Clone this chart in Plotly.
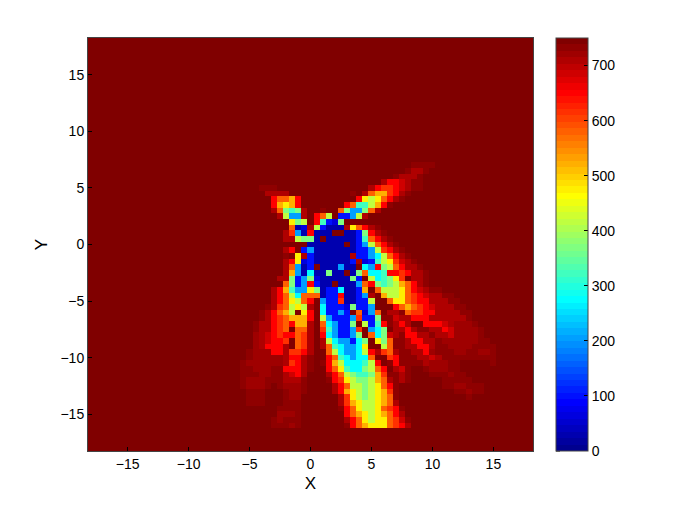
# -*- coding: utf-8 -*-
import numpy as np
import plotly.graph_objects as go

x_cells = [-18 + 0.5 * i for i in range(73)]
y_cells = [-18 + 0.5 * i for i in range(73)]

# map values, one letter per cell, background is 750
levels = {'.': 750, 'z': 737, 'w': 724, 'y': 710, 'x': 680, 'r': 650, 'q': 620, 'o': 580, 'p': 525,
          'u': 470, 'g': 420, 'l': 370, 't': 320, 'c': 280, 'a': 200, 'b': 105, 'm': 60, 'n': 25}

# rows from y=7 down to y=-16, each starts at x=-6, groups of 4 cells
first_row_y = 7
first_cell_x = -6
rows = [
    ".... .... .... .... .... .... .... .zzz z",
    ".... .... .... .... .... .... .... zyyz",
    ".... .... .... .... .... .... ..zy yyz.",
    ".... .... .... .... .... .... yrrx yzz.",
    ".... zzz. .... .... .... ..yr qqrx yzz.",
    ".... .yyy y... .... ...z .yop pqry z",
    ".... ..ro opr. .... .... rugu oryz",
    ".... ..rp upr. .... ..ro ttgp rz..",
    ".... ..yo ltly ..z. .ola aloy",
    ".... ...y gaay .rog .bba gy..",
    ".... .... .ulg .rtb ml..",
    ".... .... .onm ygbn nnyu oryz",
    ".... .... yqan rnnn ..nn blry z",
    ".... .... yygl ln.n nnnn btor yz",
    ".... .... .... nnnn nn.n bago ryz.",
    ".... .... yr.b annn nnnn bbag qryz",
    ".... .... z.uy bnnn nnny bbac gory z",
    ".... .... yrum bnnn nnnb ymbt guqx yz",
    ".... .... yoan b.nn nann .car lgor yyz.",
    ".... .... ypan cnnl nn.n locc trrq ryyz",
    ".... ...y ylba lmnn nnnl b.gc tluq .yyz",
    ".... .... olba rbnn .nnn aorl tlgp oryz",
    ".... ..yr ptaa ulnb bcnn bp.o gggu orxy zz",
    ".... ..yr ogco oonb brnn bay. pggu oqrx yyzz",
    ".... ..yr ougo r.ab bqnn bbg. .ouu oqrr yyyz z",
    ".... .zyq ogug y.cb bbml bba. ..ro poqr xyyy zz",
    ".... zyro pg.u r.cb bab. omao .yyz oqqr ryyy yzz.",
    ".... zyrq oppp r.ga bbba qbbl zzxy yrrr yyyy yyz.",
    "...z yyrq orpp y.oc abbl .gbt rzyr y..r rrxy wwwz",
    "...z yyrq o.oo y.qt abba q.ac l.yy ryzz yyrx wwww z",
    "...w yxrq rroq y.rc abba l.oc lxyz rryy zyyx wwww z",
    "...w yxrr q.oq y.yg caab cl.u lozz yrry yzww wwww zz",
    "...w yrrr y.oq y.yo tcaa cu.. gozz yyrr yzzw wwwz zzz",
    "..zw wwrr yqqr y..o gcaa cgry qoyz zyyr wzzz wwzz wwz",
    "..zw wwww yrry z..r otca cco. .qrz zzyy xyzz zzzz zzz",
    ".zww wwww yqry z.zr pgcc ctgr .zrz zzzy wwwz z... ..z",
    ".zzw wwzz rrry z..r outc clgo r.yx z..z wwwz z",
    ".zzz wwzz yxry ...y rogl ttlp qzzy z... zzzw zz",
    ".zww wzzz yyyz ...z rqug llgp oyzy z... ..zz zzz",
    ".zww wz.z wwwz .... yrog glgu orz. .... ..zz wwzz z",
    "..zz z... zwwz .... yrpu glgu pqz. .... .... zzwz z",
    "..zz z... zww. .... .yqu glgu poz. .... .... ..z.",
    "..zz z... zzz. .... .yqp uggu poy.",
    ".... ...z zzz. .... .zro uggu oqrz",
    ".... ...w wwz. .... ..ro pugu pory",
    ".... ..zw zzz. .... ..yr ougu uoqx z",
    ".... ..zz zwz. .... ..zr opuu uoqr y",
]

axis_ticks = [-15, -10, -5, 0, 5, 10, 15]
cbar_ticks = [0, 100, 200, 300, 400, 500, 600, 700]

z = np.full((len(y_cells), len(x_cells)), 750.0)
for r, row in enumerate(rows):
    j = y_cells.index(first_row_y - 0.5 * r)
    for c, ch in enumerate(row.replace(" ", "")):
        z[j, x_cells.index(first_cell_x + 0.5 * c)] = levels[ch]


# matlab jet, 64 flat steps
def jet(f):
    r = np.clip(min(4 * f - 1.5, -4 * f + 4.5), 0, 1)
    g = np.clip(min(4 * f - 0.5, -4 * f + 3.5), 0, 1)
    b = np.clip(min(4 * f + 0.5, -4 * f + 2.5), 0, 1)
    return "rgb(%d,%d,%d)" % (round(r * 255), round(g * 255), round(b * 255))


jet_steps = []
for i in range(64):
    col = jet((i + 1) / 64)
    jet_steps.append([i / 64, col])
    jet_steps.append([(i + 1) / 64, col])

font = dict(family="Liberation Sans, Arial, sans-serif", size=14, color="black")

fig = go.Figure()
fig.add_trace(go.Heatmap(x=x_cells, y=y_cells, z=z, zmin=0, zmax=750, colorscale=jet_steps,
                         colorbar=dict(x=1.0517, xanchor="left", xpad=0, y=0.5, yanchor="middle", ypad=0,
                                       len=1, lenmode="fraction", thickness=32, thicknessmode="pixels",
                                       tickmode="array", tickvals=cbar_ticks, ticks="inside", ticklen=4,
                                       tickcolor="black", tickwidth=1, outlinecolor="#444444", outlinewidth=1,
                                       tickfont=font)))

# colorbar has ticks on its left edge too
bar_left = 1.0517
for t in cbar_ticks:
    fig.add_shape(type="line", xref="paper", yref="paper", x0=bar_left, x1=bar_left + 0.009,
                  y0=t / 750, y1=t / 750, line=dict(color="black", width=1))

fig.update_xaxes(range=[-18.25, 18.25], tickmode="array", tickvals=axis_ticks, ticks="inside", ticklen=4,
                 tickcolor="black", showgrid=False, zeroline=False, showline=True, linecolor="#444444",
                 linewidth=1, mirror=True, tickfont=font, title=dict(text="X", font=dict(size=17), standoff=6))
fig.update_yaxes(range=[-18.25, 18.25], tickmode="array", tickvals=axis_ticks, ticks="inside", ticklen=4,
                 tickcolor="black", showgrid=False, zeroline=False, showline=True, linecolor="#444444",
                 linewidth=1, mirror=True, tickfont=font, title=dict(text="Y", font=dict(size=17), standoff=8))
fig.update_layout(width=677, height=508, margin=dict(l=88, r=144, t=38, b=57), plot_bgcolor="white",
                  paper_bgcolor="white", font=font)
fig.write_html("out.html", post_script="document.body.style.margin='0';", config=dict(displayModeBar=False))
